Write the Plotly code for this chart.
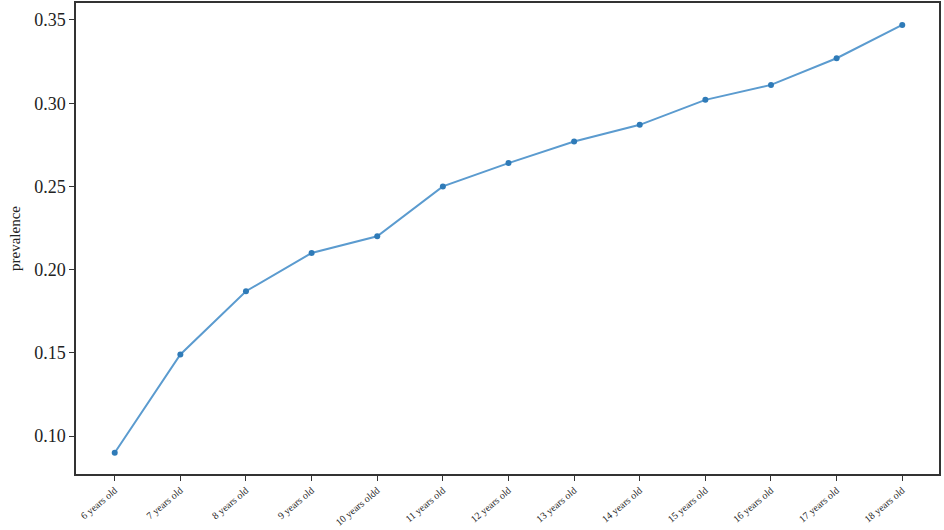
import plotly.graph_objects as go

ages = ["6 years old", "7 years old", "8 years old", "9 years old", "10 years oldd",
        "11 years old", "12 years old", "13 years old", "14 years old", "15 years old",
        "16 years old", "17 years old", "18 years old"]
prevalence = [0.090, 0.149, 0.187, 0.210, 0.220, 0.250, 0.264, 0.277, 0.287, 0.302, 0.311, 0.327, 0.347]
y_ticks = [0.10, 0.15, 0.20, 0.25, 0.30, 0.35]

fig = go.Figure()
fig.add_trace(go.Scatter(
    x=list(range(len(ages))), y=prevalence, mode="lines+markers",
    line=dict(color="#5b9bcf", width=2),
    marker=dict(color="#2f7bb8", size=6),
    showlegend=False,
))

fig.update_layout(
    width=944, height=530,
    margin=dict(l=76, r=5, t=3, b=56, autoexpand=False),
    paper_bgcolor="white", plot_bgcolor="white",
    font=dict(family="Liberation Serif, Times New Roman, serif", color="#222"),
)
fig.update_xaxes(
    range=[-0.59, 12.56],
    tickmode="array", tickvals=list(range(len(ages))), ticktext=ages,
    tickangle=-40, tickfont=dict(size=10),
    showline=True, linecolor="#333", linewidth=1.5, mirror=True,
    ticks="outside", ticklen=5, tickcolor="#333",
    showgrid=False, zeroline=False, automargin=False,
)
fig.update_yaxes(
    range=[0.0772, 0.3602],
    tickmode="array", tickvals=y_ticks, ticktext=[f"{v:.2f}" for v in y_ticks],
    tickfont=dict(size=18),
    title=dict(text="prevalence", font=dict(size=15), standoff=10),
    showline=True, linecolor="#333", linewidth=1.5, mirror=True,
    ticks="outside", ticklen=5, tickcolor="#333",
    showgrid=False, zeroline=False, automargin=False,
)

fig.write_html("out.html", config={"displayModeBar": False},
               post_script="document.body.style.margin='0';document.body.style.overflow='hidden';")
